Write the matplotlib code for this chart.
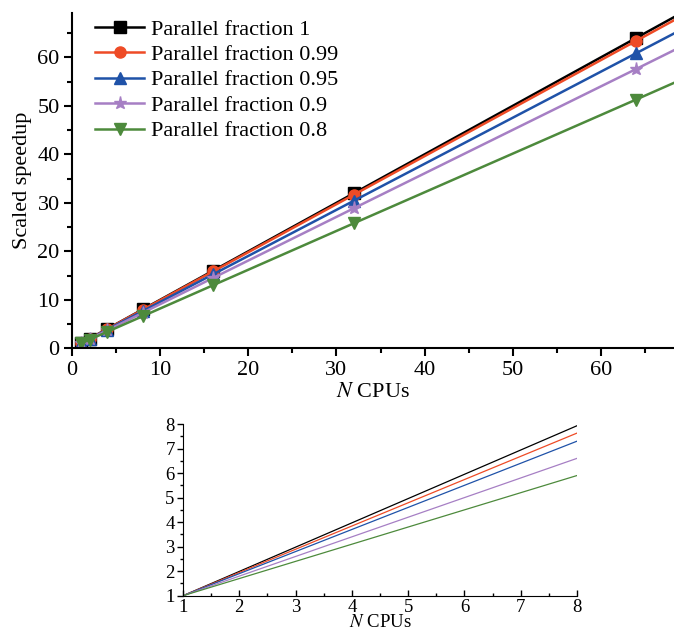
import matplotlib
matplotlib.use('Agg')
import matplotlib.pyplot as plt
from matplotlib.ticker import MultipleLocator

# scaled speedup vs number of CPUs (last point lies past the axis edge)
n_cpus = [1, 2, 4, 8, 16, 32, 64, 128]
speedup_1 = [1, 2, 4, 8, 16, 32, 64, 128]
speedup_099 = [1, 1.99, 3.97, 7.93, 15.85, 31.7, 63.4, 126.7]
speedup_095 = [1, 1.95, 3.85, 7.65, 15.25, 30.45, 60.85, 121.6]
speedup_09 = [1, 1.9, 3.7, 7.3, 14.5, 28.9, 57.6, 115.3]
speedup_08 = [1, 1.8, 3.4, 6.6, 13.0, 25.8, 51.3, 102.6]

labels = ['Parallel fraction 1', 'Parallel fraction 0.99', 'Parallel fraction 0.95',
          'Parallel fraction 0.9', 'Parallel fraction 0.8']
colors = ['#000000', '#ee4b26', '#1f52a8', '#a67fc4', '#4d8a3c']
markers = ['s', 'o', '^', '*', 'v']

# inset: 1..8 CPUs
inset_x = [1, 8]
inset_ends = [7.93, 7.63, 7.3, 6.6, 5.9]

plt.rcParams['font.family'] = ['Liberation Serif', 'DejaVu Serif']
plt.rcParams['mathtext.fontset'] = 'stix'

fig = plt.figure(figsize=(6.74, 6.32), dpi=100)

ax = fig.add_axes([0.107, 0.449, 0.893, 0.530])
all_series = [speedup_1, speedup_099, speedup_095, speedup_09, speedup_08]
for ys, lab, c, m in zip(all_series, labels, colors, markers):
    ax.plot(n_cpus, ys, color=c, marker=m, markersize=9.5 if m == '*' else 8,
            linewidth=1.8, label=lab)
ax.set_xlim(0, 68.3)
ax.set_ylim(0, 69.1)
ax.xaxis.set_major_locator(MultipleLocator(10))
ax.xaxis.set_minor_locator(MultipleLocator(5))
ax.yaxis.set_major_locator(MultipleLocator(10))
ax.yaxis.set_minor_locator(MultipleLocator(5))
ax.spines['top'].set_visible(False)
ax.spines['right'].set_visible(False)
ax.spines['left'].set_linewidth(1.5)
ax.spines['bottom'].set_linewidth(1.5)
ax.tick_params(which='major', direction='out', length=6, width=1.5, labelsize=16, pad=3)
ax.tick_params(which='minor', direction='out', length=3.5, width=1.5)
ax.set_xlabel(r'$\mathit{N}$ CPUs', fontsize=16, labelpad=2)
ax.set_ylabel('Scaled speedup', fontsize=16, labelpad=4)
ax.legend(loc='upper left', bbox_to_anchor=(0.02, 1.016), frameon=False, fontsize=16,
          handlelength=2.2, handletextpad=0.3, labelspacing=0.22, borderaxespad=0.1)

ins = fig.add_axes([0.2715, 0.0574, 0.5846, 0.2717])
for end, c in zip(inset_ends, colors):
    ins.plot(inset_x, [1, end], color=c, linewidth=0.9)
ins.set_xlim(1, 8)
ins.set_ylim(1, 8)
ins.xaxis.set_major_locator(MultipleLocator(1))
ins.xaxis.set_minor_locator(MultipleLocator(0.5))
ins.yaxis.set_major_locator(MultipleLocator(1))
ins.yaxis.set_minor_locator(MultipleLocator(0.5))
ins.spines['top'].set_visible(False)
ins.spines['right'].set_visible(False)
ins.tick_params(axis='x', which='both', direction='in')
ins.tick_params(axis='y', which='both', direction='out')
ins.tick_params(which='major', length=4, width=1, labelsize=13.5, pad=2)
ins.tick_params(which='minor', length=2.5, width=1)
ins.set_xlabel(r'$\mathit{N}$ CPUs', fontsize=13.5, labelpad=-1)

fig.savefig('out.png', dpi=100)
